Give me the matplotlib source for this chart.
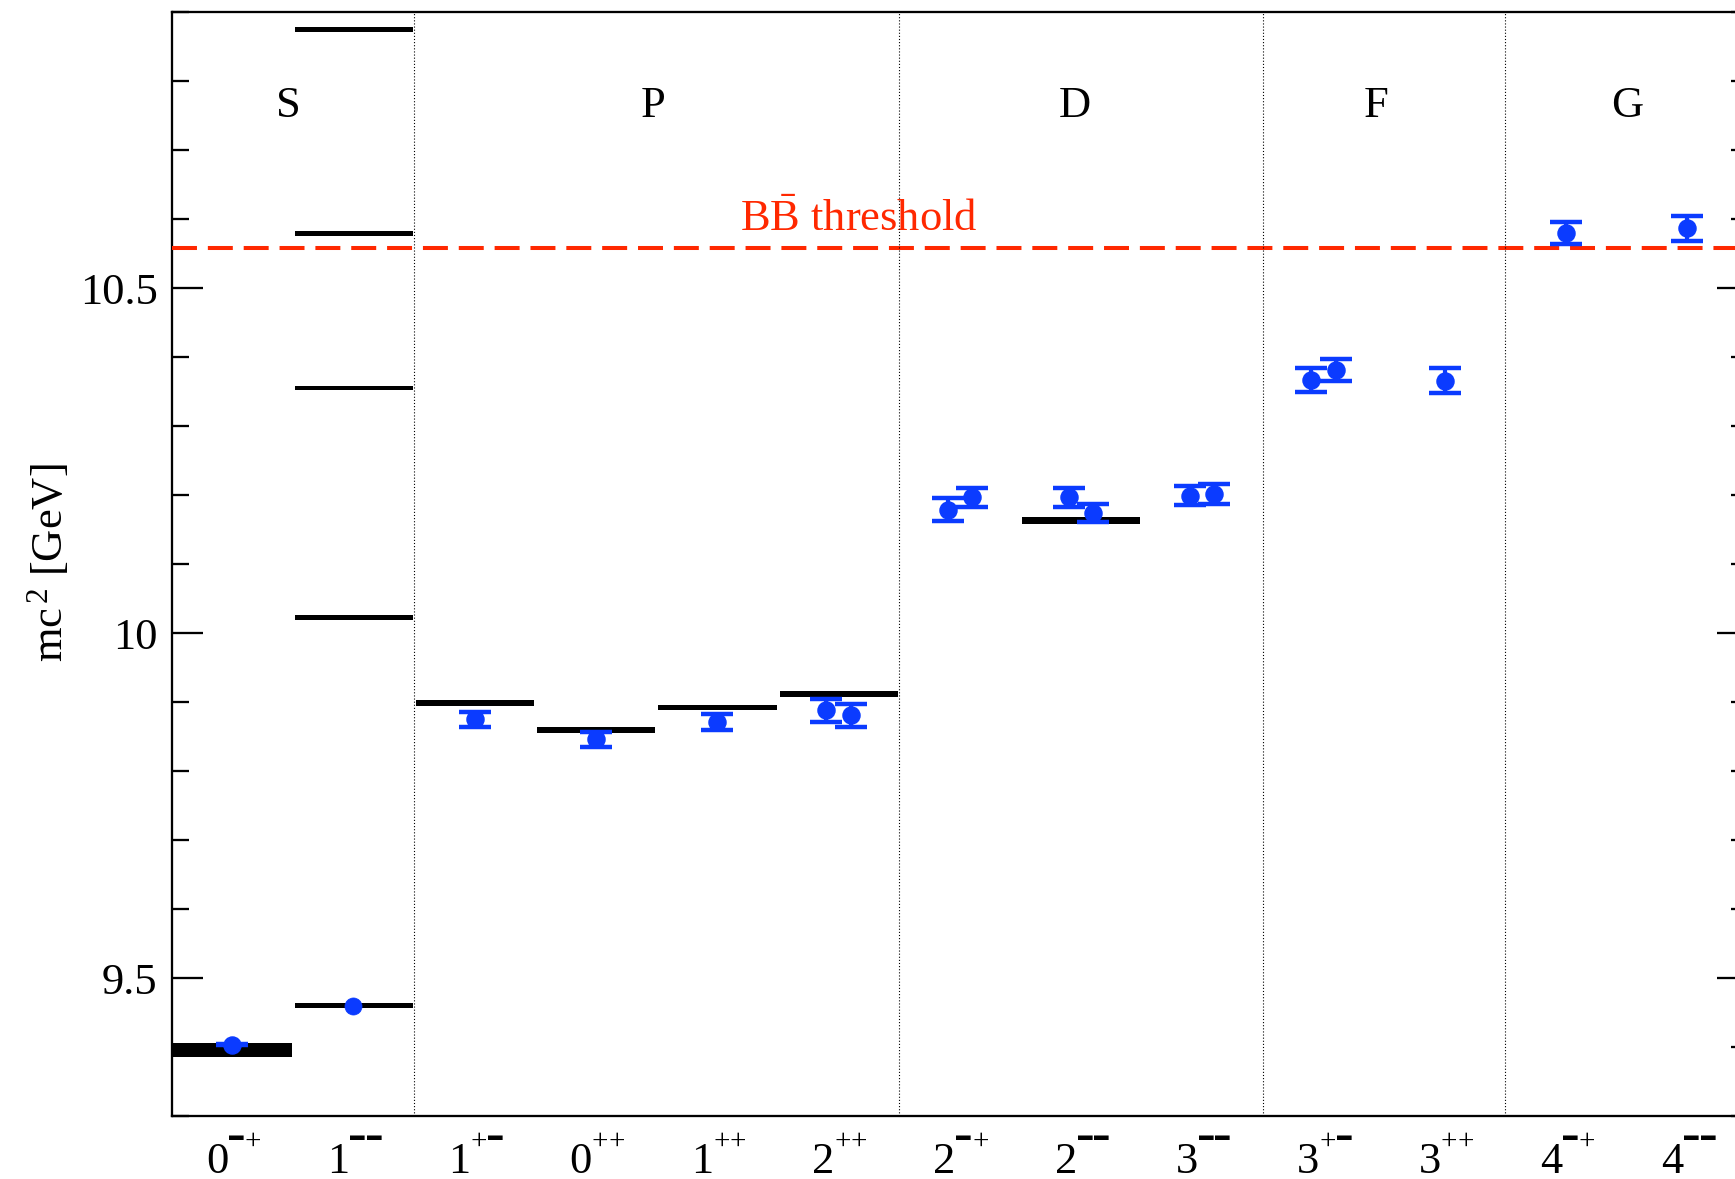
import matplotlib
matplotlib.use('Agg')
import matplotlib.pyplot as plt
import matplotlib.transforms as mtransforms
from matplotlib.ticker import FixedLocator, MultipleLocator
import numpy as np

plt.rcParams['font.family'] = ['Liberation Serif', 'DejaVu Sans']
plt.rcParams['mathtext.fontset'] = 'custom'
plt.rcParams['mathtext.rm'] = 'Liberation Serif'
plt.rcParams['mathtext.it'] = 'Liberation Serif:italic'
plt.rcParams['mathtext.bf'] = 'Liberation Serif:bold'

# J^PC channels along the x axis
channel_J = ['0', '1', '1', '0', '1', '2', '2', '2', '3', '3', '3', '4', '4']
channel_PC = ['-+', '--', '+-', '++', '++', '++', '-+', '--', '--', '+-', '++', '-+', '--']

# partial-wave groups and the channel boundaries between them
wave_names = ['S', 'P', 'D', 'F', 'G']
wave_bounds = [0, 2, 6, 9, 11, 13]
wave_label_x = [0.96, 3.97, 7.45, 9.93, 12.0]

# experimental levels [GeV]
exp_channel = [0, 1, 1, 1, 1, 1, 2, 3, 4, 5, 7]
exp_mass = [9.395, 9.460, 10.023, 10.355, 10.579, 10.875,
            9.898, 9.859, 9.892, 9.912, 10.163]
exp_halfwidth = [0.0101, 0.0035, 0.0035, 0.0035, 0.0035, 0.0035,
                 0.0045, 0.0042, 0.0042, 0.0042, 0.0047]

# lattice results [GeV]
lat_channel = [0, 1, 2, 3, 4, 5, 5, 6, 6, 7, 7, 8, 8, 9, 9, 10, 11, 12]
lat_mass = [9.4035, 9.460, 9.8747, 9.8457, 9.8704, 9.8878, 9.8805,
            10.1789, 10.1967, 10.1967, 10.1735, 10.1992, 10.2016,
            10.3672, 10.3812, 10.3657, 10.5797, 10.5863]
lat_err = [0.001, 0.0, 0.011, 0.0113, 0.0116, 0.0169, 0.0171,
           0.0162, 0.014, 0.014, 0.013, 0.0135, 0.014,
           0.0174, 0.0162, 0.018, 0.0164, 0.0176]

bb_threshold = 10.558

BLUE = '#0b3bff'
RED = '#ff2800'

W, H = 1735, 1179
fig = plt.figure(figsize=(W / 100, H / 100), dpi=100)
ax = fig.add_axes([171.5 / W, 1 - 1116 / H, (1748 - 171.5) / W, (1116 - 12) / H])
ax.set_xlim(0, 13)
ax.set_ylim(9.3, 10.9)

# experimental levels as black bars spanning each channel
em = np.array(exp_mass)
ehw = np.array(exp_halfwidth)
ax.bar(np.array(exp_channel) + 0.5025, 2 * ehw, width=0.975, bottom=em - ehw,
       color='black', linewidth=0, zorder=2)

# lattice points: spread two states in one channel by +-0.1
lat_x = []
for k, ch in enumerate(lat_channel):
    same = [j for j, c in enumerate(lat_channel) if c == ch]
    if len(same) == 1:
        lat_x.append(ch + 0.5)
    else:
        lat_x.append(ch + 0.4 + 0.2 * same.index(k))

for x, m, e in zip(lat_x, lat_mass, lat_err):
    if e > 0:
        ax.errorbar(x, m, yerr=e, fmt='o', ms=12.3, color=BLUE, ecolor=BLUE,
                    mec=BLUE, elinewidth=3.0, capsize=11.5, capthick=3.2, zorder=4)
    else:
        ax.plot(x, m, 'o', ms=12.3, color=BLUE, mec=BLUE, mew=0.5, zorder=4)

# B Bbar threshold
ax.axhline(bb_threshold, color=RED, lw=2.9, linestyle=(0, (6.2, 2.7)), zorder=3)
ax.text(5.666, 10.582, r'$\mathrm{B\bar{B}}$ threshold', color=RED, fontsize=32,
        ha='center', va='baseline', zorder=3)

# partial-wave separators and names
for b in wave_bounds[1:-1]:
    ax.axvline(b, color='black', lw=0.8, linestyle=(0, (1, 1.8)), zorder=5)
for name, xl in zip(wave_names, wave_label_x):
    ax.text(xl, 10.748, name, fontsize=32, ha='center', va='baseline')

# axes styling
for sp in ax.spines.values():
    sp.set_linewidth(1.65)
ax.set_xticks([])
ax.yaxis.set_major_locator(FixedLocator([9.5, 10.0, 10.5]))
ax.set_yticklabels(['9.5', '10', '10.5'])
ax.yaxis.set_minor_locator(MultipleLocator(0.1))
ax.tick_params(axis='y', which='both', direction='in', left=True, right=True,
               width=1.65, labelsize=32, pad=10)
ax.tick_params(axis='y', which='major', length=22.3)
ax.tick_params(axis='y', which='minor', length=11.9)

# J^PC tick labels
base = mtransforms.blended_transform_factory(ax.transData, ax.transAxes)
for i, (J, PC) in enumerate(zip(channel_J, channel_PC)):
    c = i + 0.5
    t = mtransforms.offset_copy(base, fig=fig, x=-4, y=0, units='dots')
    ax.text(c, -0.0516, J, transform=t, fontsize=32, ha='right', va='baseline',
            clip_on=False)
    for k, s in enumerate(PC):
        dx = 4 + 16.5 * k
        t = mtransforms.offset_copy(base, fig=fig, x=dx, y=0, units='dots')
        if s == '+':
            ax.text(c, -0.0294, '+', transform=t, fontsize=21, ha='center',
                    va='baseline', clip_on=False)
        else:
            ax.text(c, -0.0215, '\u25AC', transform=t, fontsize=10.5, ha='center',
                    va='baseline', clip_on=False)

fig.text(62 / W, 1 - 563 / H, r'mc$^{\,2}$ [GeV]', fontsize=32, rotation=90,
         rotation_mode='anchor', ha='center', va='baseline')

fig.savefig('out.png', dpi=100)
